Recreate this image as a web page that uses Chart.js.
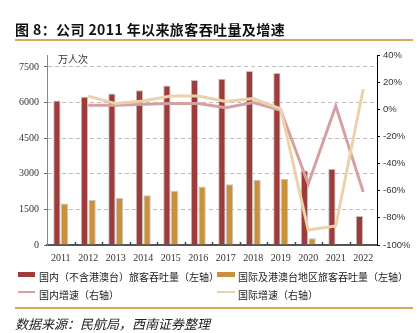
<!DOCTYPE html>
<html><head><meta charset="utf-8">
<script src="https://cdn.jsdelivr.net/npm/chart.js@4"></script>
<style>
html,body{margin:0;padding:0;background:#fff;width:418px;height:333px;overflow:hidden;}
#wrap{position:relative;width:418px;height:333px;}
canvas{position:absolute;left:0;top:0;}
.t{position:absolute;white-space:nowrap;color:#222;line-height:1;}
.lg{font:10px 'Noto Sans CJK SC';}
.mk{position:absolute;}
</style></head><body>
<div id="wrap">
<canvas id="c" width="418" height="333"></canvas>
<div class="t" style="left:15px;top:19px;font:bold 14px 'Noto Sans CJK SC';color:#111;letter-spacing:0.4px;">图 8：公司 2011 年以来旅客吞吐量及增速</div>
<div class="mk" style="left:15px;top:39px;width:398px;height:2px;background:#d9a65e"></div>
<div class="t" style="left:58px;top:51px;font:10px 'Noto Sans CJK SC';color:#333;">万人次</div>

<div class="mk" style="left:18px;top:272px;width:17px;height:5px;background:#9e3b3b"></div>
<div class="t lg" style="left:39px;top:269px;">国内（不含港澳台）旅客吞吐量（左轴）</div>
<div class="mk" style="left:217px;top:272px;width:18px;height:5px;background:#c8913c"></div>
<div class="t lg" style="left:238px;top:269px;">国际及港澳台地区旅客吞吐量（左轴）</div>
<div class="mk" style="left:18px;top:291px;width:17px;height:2px;background:#d7a0a0"></div>
<div class="t lg" style="left:39px;top:287px;">国内增速（右轴）</div>
<div class="mk" style="left:217px;top:291px;width:18px;height:2px;background:#ebd2aa"></div>
<div class="t lg" style="left:238px;top:287px;">国际增速（右轴）</div>

<div class="mk" style="left:15px;top:307px;width:398px;height:2px;background:#d9a65e"></div>
<div class="t" style="left:15px;top:314px;font:italic 13px 'Noto Sans CJK SC';color:#222;">数据来源：民航局，西南证券整理</div>
</div>
<script>
const categories = ['2011','2012','2013','2014','2015','2016','2017','2018','2019','2020','2021','2022'];
const domestic = [6080, 6240, 6380, 6520, 6720, 6950, 7000, 7330, 7240, 3140, 3210, 1220];
const international = [1750, 1910, 1980, 2095, 2280, 2460, 2560, 2745, 2775, 280, 25, 20];
const domesticGrowth = [null, 3.0, 2.9, 3.7, 4.2, 4.2, 1.2, 4.9, -0.7, -55, 2.5, -61];
const internationalGrowth = [null, 9.6, 4.2, 6.1, 9.8, 9.8, 5.7, 7.9, 0.3, -89, -86, 15];
const leftTicks = [0, 1500, 3000, 4500, 6000, 7500];
const rightTicks = [-100, -80, -60, -40, -20, 0, 20, 40];

const xTickMarks = {
  id: 'xTickMarks',
  afterDatasetsDraw(chart) {
    const {ctx, chartArea: a, scales: {x}} = chart;
    const n = x.ticks.length;
    const w = (a.right - a.left) / n;
    ctx.save();
    ctx.strokeStyle = '#444';
    ctx.lineWidth = 1.5;
    for (let i = 1; i < n; i++) {
      const px = Math.round(a.left + i * w) + 0.5;
      ctx.beginPath(); ctx.moveTo(px, a.bottom); ctx.lineTo(px, a.bottom - 3); ctx.stroke();
    }
    ctx.restore();
  }
};

new Chart(document.getElementById('c'), {
  type: 'bar',
  data: {
    labels: categories,
    datasets: [
      {type:'line', label:'国际增速（右轴）', data: internationalGrowth, yAxisID:'y1', borderColor:'#ebd2aa', borderWidth:3, pointRadius:0, tension:0, order:0, fill:false},
      {type:'line', label:'国内增速（右轴）', data: domesticGrowth, yAxisID:'y1', borderColor:'#d7a0a0', borderWidth:3, pointRadius:0, tension:0, order:1, fill:false},
      {label:'国内（不含港澳台）旅客吞吐量（左轴）', data: domestic, yAxisID:'y', backgroundColor:'#9e3b3b', borderColor:'rgba(190,190,190,0.9)', borderWidth:1, order:2, categoryPercentage:0.56, barPercentage:0.95},
      {label:'国际及港澳台地区旅客吞吐量（左轴）', data: international, yAxisID:'y', backgroundColor:'#c8913c', borderColor:'rgba(190,190,190,0.9)', borderWidth:1, order:3, categoryPercentage:0.56, barPercentage:0.95}
    ]
  },
  options: {
    responsive:false, animation:false, devicePixelRatio:1,
    layout:{padding:{top:55, left:0, right:0, bottom:0}},
    plugins:{legend:{display:false}, tooltip:{enabled:false}},
    scales:{
      x:{
        grid:{display:false, drawTicks:false},
        border:{color:'#555', width:2},
        ticks:{font:{family:'Liberation Serif', size:10}, color:'#333', padding:7, maxRotation:0, autoSkip:false},
        afterFit(s){ s.height = 88; }
      },
      y:{
        position:'left', min:0, max:8000,
        afterBuildTicks(s){ s.ticks = leftTicks.map(v => ({value:v})); },
        ticks:{font:{family:'Liberation Serif', size:10}, color:'#333', padding:5, callback:v => String(v)},
        grid:{color:'#bdbdbd', lineWidth:1, drawTicks:true, tickLength:3, tickColor:'#666'},
        border:{color:'#888', width:1, dash:[4,3]},
        afterFit(s){ s.width = 47; }
      },
      y1:{
        position:'right', min:-100, max:40,
        afterBuildTicks(s){ s.ticks = rightTicks.map(v => ({value:v})); },
        ticks:{font:{family:'Liberation Sans', size:9.5}, color:'#333', padding:3, callback:v => v + '%'},
        grid:{drawOnChartArea:false, drawTicks:true, tickLength:3, tickColor:'#000'},
        border:{color:'#000', width:1},
        afterFit(s){ s.width = 41; }
      }
    }
  },
  plugins:[xTickMarks]
});
</script>
</body></html>
